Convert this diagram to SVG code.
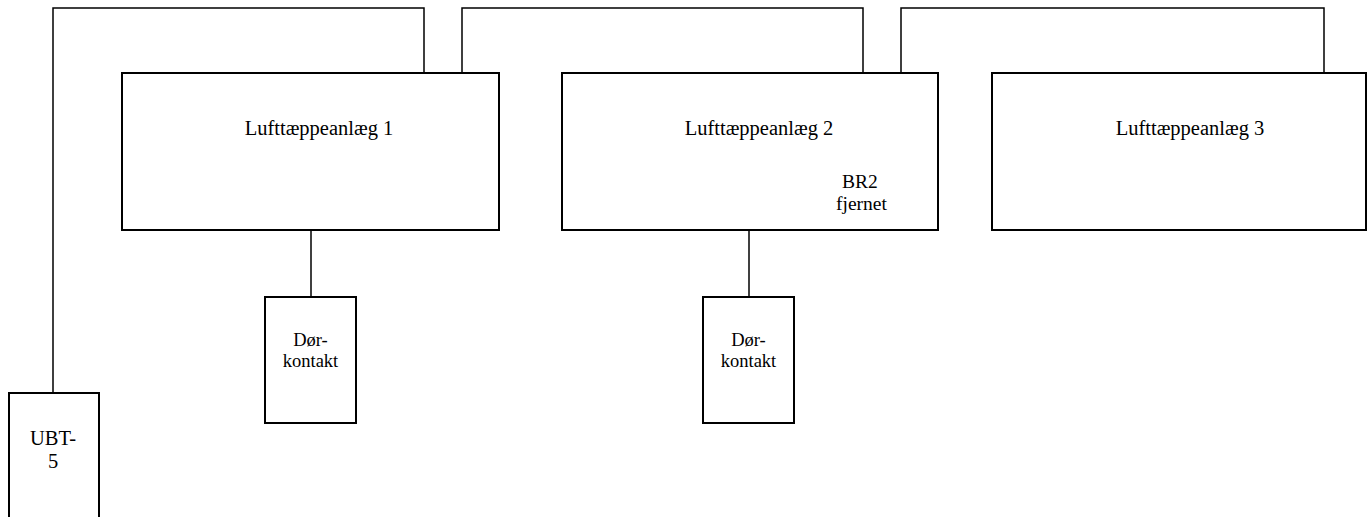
<svg xmlns="http://www.w3.org/2000/svg" width="1370" height="517" viewBox="0 0 1370 517">
<style>
.box{fill:#fff;stroke:#000;stroke-width:2}
.wire{fill:none;stroke:#000;stroke-width:1.5}
text{font-family:"Liberation Serif","Times New Roman",serif;fill:#000;text-anchor:middle}
.big{font-size:20.5px}
.mid{font-size:19.5px}
.sm{font-size:18.5px}
</style>
<rect width="1370" height="517" fill="#fff"/>
<g id="connectors">
<polyline class="wire" points="53,393 53,8 424,8 424,73"/>
<polyline class="wire" points="462,73 462,8 863,8 863,73"/>
<polyline class="wire" points="901,73 901,8 1324,8 1324,73"/>
<line class="wire" x1="311" y1="230" x2="311" y2="297"/>
<line class="wire" x1="749" y1="230" x2="749" y2="297"/>
</g>
<g id="anlaeg1">
<rect class="box" x="122" y="73" width="377" height="157"/>
<text class="big" x="319" y="135">Lufttæppeanlæg 1</text>
</g>
<g id="anlaeg2">
<rect class="box" x="562" y="73" width="376" height="157"/>
<text class="big" x="759" y="135">Lufttæppeanlæg 2</text>
<text class="mid" x="860" y="187.5">BR2</text>
<text class="mid" x="861.5" y="209.5">fjernet</text>
</g>
<g id="anlaeg3">
<rect class="box" x="992" y="73" width="374" height="157"/>
<text class="big" x="1190" y="135">Lufttæppeanlæg 3</text>
</g>
<g id="dor1">
<rect class="box" x="265" y="297" width="91" height="126"/>
<text class="sm" x="310.5" y="346">Dør-</text>
<text class="sm" x="310.5" y="367">kontakt</text>
</g>
<g id="dor2">
<rect class="box" x="703" y="297" width="91" height="126"/>
<text class="sm" x="748.5" y="346">Dør-</text>
<text class="sm" x="748.5" y="367">kontakt</text>
</g>
<g id="ubt5">
<rect class="box" x="9" y="393" width="90" height="140"/>
<text class="big" x="53" y="445">UBT-</text>
<text class="big" x="53" y="468">5</text>
</g>
</svg>
